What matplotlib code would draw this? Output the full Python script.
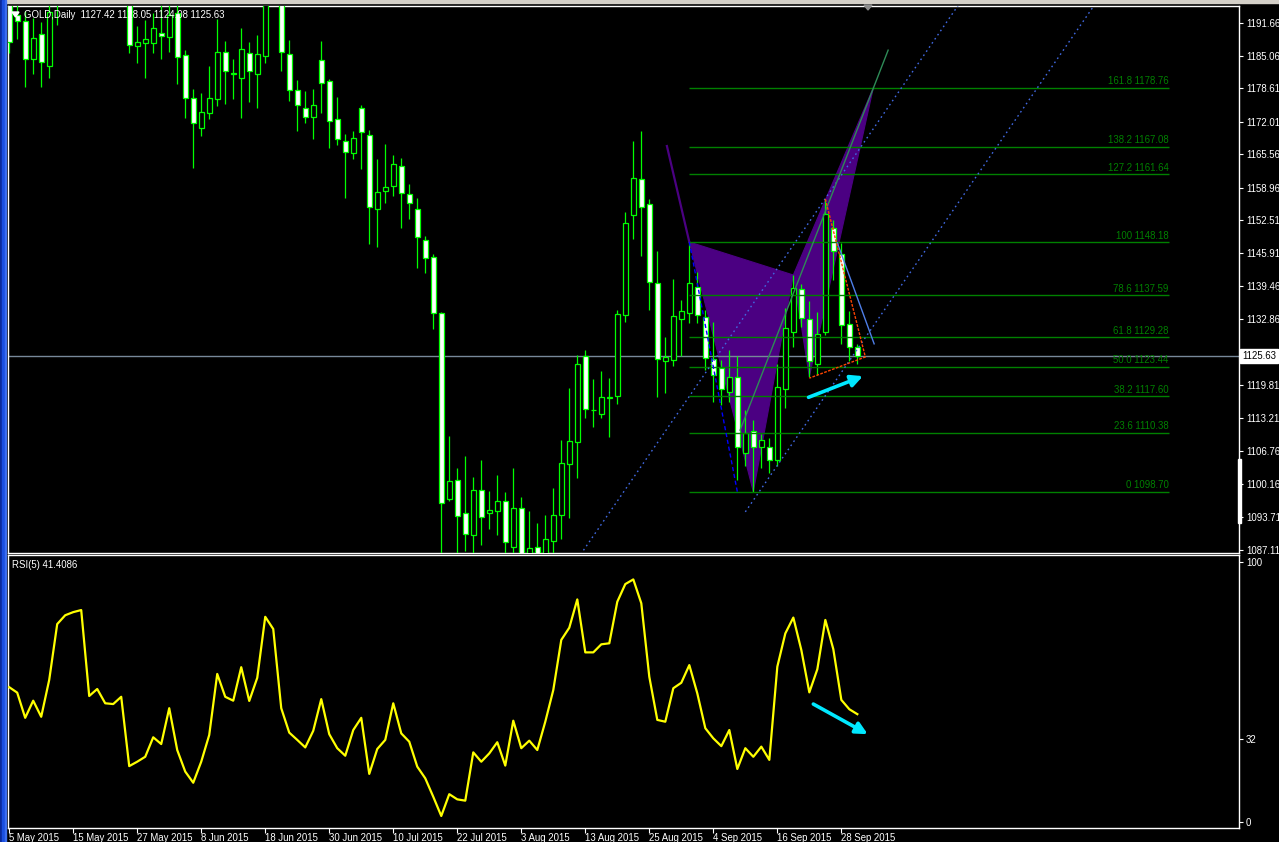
import matplotlib
matplotlib.use("Agg")
import matplotlib.pyplot as plt
import matplotlib.transforms as mtransforms
from matplotlib.patches import Polygon, Rectangle
import numpy as np

W, H, DPI = 1279, 842, 100
plt.rcParams["font.family"] = ["Liberation Sans", "DejaVu Sans"]

# ---- daily GOLD bars, 5 May 2015 .. 30 Sep 2015 ----
opens = [1196.5, 1193.2, 1192.0, 1184.5, 1189.5, 1183.1, 1196.0, 1201.0, 1207.0, 1216.0,
         1225.0, 1205.0, 1207.0, 1203.0, 1202.5, 1204.0, 1187.0, 1187.6, 1187.7, 1189.6,
         1188.9, 1193.6, 1185.2, 1176.7, 1170.7, 1173.7, 1176.5, 1185.9, 1181.5, 1180.6,
         1185.7, 1181.4, 1185.1, 1197.0, 1196.2, 1185.4, 1178.4, 1174.7, 1172.9, 1184.2,
         1180.0, 1172.5, 1168.1, 1165.8, 1174.7, 1169.3, 1154.7, 1158.2, 1159.3, 1163.2,
         1157.6, 1154.7, 1148.5, 1145.2, 1134.1, 1097.3, 1101.0, 1094.4, 1090.2, 1099.0,
         1094.4, 1094.8, 1096.8, 1087.8, 1095.4, 1085.0, 1087.7, 1085.5, 1089.0, 1094.1,
         1104.1, 1108.6, 1125.5, 1114.9, 1114.0, 1117.3, 1117.6, 1133.7, 1153.5, 1160.6,
         1155.7, 1140.0, 1124.5, 1124.7, 1132.9, 1134.1, 1139.3, 1133.4, 1125.0, 1123.2,
         1118.5, 1121.4, 1106.4, 1110.8, 1107.5, 1107.6, 1105.0, 1119.0, 1130.3, 1138.8,
         1132.9, 1124.1, 1130.3, 1151.0, 1145.9, 1131.9, 1127.42]
highs = [1198.0, 1195.5, 1194.0, 1192.5, 1191.7, 1195.5, 1205.0, 1209.0, 1219.0, 1226.0,
         1227.0, 1211.0, 1209.0, 1207.0, 1208.0, 1206.0, 1191.0, 1192.2, 1193.5, 1195.2,
         1195.5, 1195.5, 1186.2, 1178.5, 1177.7, 1183.1, 1192.4, 1188.0, 1184.4, 1190.5,
         1187.8, 1189.2, 1199.5, 1200.0, 1197.0, 1188.2, 1180.3, 1178.1, 1178.6, 1188.0,
         1180.5, 1176.9, 1169.6, 1170.2, 1175.3, 1170.4, 1164.6, 1167.7, 1165.4, 1164.8,
         1159.7, 1156.9, 1149.4, 1145.8, 1134.3, 1109.7, 1103.4, 1105.8, 1101.6, 1105.0,
         1098.8, 1102.0, 1098.6, 1103.4, 1097.6, 1094.9, 1092.5, 1094.1, 1099.4, 1108.9,
         1119.3, 1125.8, 1126.8, 1121.0, 1122.6, 1121.2, 1134.7, 1154.1, 1168.2, 1170.2,
         1156.7, 1146.4, 1129.3, 1140.9, 1136.7, 1148.18, 1142.3, 1134.7, 1132.3, 1124.8,
         1126.8, 1125.5, 1114.9, 1112.9, 1110.1, 1109.3, 1124.0, 1135.2, 1141.6, 1139.9,
         1136.5, 1134.3, 1156.7, 1152.5, 1147.9, 1134.6, 1128.05]
lows = [1185.6, 1188.4, 1178.8, 1181.5, 1178.8, 1180.7, 1191.2, 1199.0, 1205.0, 1214.0,
        1202.0, 1201.0, 1199.0, 1198.0, 1199.0, 1185.6, 1183.6, 1180.6, 1185.7, 1184.5,
        1185.9, 1179.4, 1172.8, 1162.8, 1169.1, 1172.5, 1175.1, 1175.5, 1176.6, 1172.7,
        1176.0, 1174.7, 1183.6, 1195.3, 1182.1, 1176.2, 1170.2, 1171.7, 1168.5, 1173.8,
        1166.9, 1167.4, 1157.0, 1164.6, 1162.7, 1147.8, 1147.1, 1156.0, 1157.3, 1151.0,
        1152.7, 1143.1, 1142.1, 1130.9, 1080.8, 1096.9, 1085.5, 1087.0, 1077.0, 1088.2,
        1091.4, 1090.2, 1084.5, 1083.5, 1083.0, 1082.0, 1081.5, 1083.0, 1085.0, 1089.3,
        1093.5, 1101.5, 1113.4, 1111.6, 1113.4, 1109.6, 1116.1, 1132.4, 1148.8, 1145.5,
        1134.7, 1117.5, 1118.2, 1123.6, 1125.6, 1132.1, 1132.1, 1122.8, 1116.5, 1115.9,
        1116.5, 1101.0, 1103.7, 1098.70, 1103.3, 1102.5, 1103.7, 1115.2, 1127.3, 1131.4,
        1121.5, 1121.8, 1129.8, 1140.7, 1127.9, 1124.5, 1124.08]
closes = [1187.9, 1192.0, 1184.4, 1188.6, 1183.8, 1193.8, 1201.0, 1207.0, 1216.0, 1225.0,
          1205.0, 1207.0, 1203.0, 1202.5, 1204.0, 1187.2, 1187.8, 1188.4, 1190.5, 1189.1,
          1193.2, 1184.9, 1176.7, 1171.8, 1173.9, 1176.7, 1185.8, 1182.1, 1181.7, 1186.4,
          1182.1, 1185.4, 1197.0, 1196.2, 1185.8, 1178.4, 1175.3, 1172.9, 1175.3, 1179.6,
          1172.1, 1168.5, 1166.1, 1168.8, 1170.0, 1155.1, 1158.0, 1159.0, 1163.6, 1157.8,
          1156.0, 1149.2, 1145.1, 1134.1, 1096.4, 1100.8, 1093.9, 1090.4, 1099.0, 1093.6,
          1095.0, 1096.8, 1088.7, 1095.4, 1085.5, 1087.5, 1086.0, 1089.3, 1094.0, 1104.3,
          1108.7, 1124.1, 1115.0, 1114.8, 1117.4, 1117.5, 1133.9, 1151.9, 1160.8, 1155.1,
          1140.3, 1124.9, 1125.3, 1133.5, 1134.6, 1140.0, 1133.7, 1125.1, 1121.8, 1119.0,
          1121.4, 1107.5, 1110.4, 1107.5, 1108.9, 1105.0, 1119.4, 1131.1, 1139.0, 1133.1,
          1124.6, 1129.9, 1153.7, 1146.4, 1131.7, 1127.4, 1125.63]

# RSI(5) of the closes
rsi = [51.8, 49.7, 40.0, 46.6, 40.4, 54.6, 76.1, 79.5, 80.7, 81.5,
       48.4, 51.1, 45.6, 45.3, 48.1, 21.4, 23.1, 25.0, 32.5, 29.9,
       43.7, 27.6, 19.3, 15.0, 23.1, 33.4, 56.9, 48.1, 46.6, 59.5,
       46.5, 55.4, 78.9, 74.2, 43.7, 34.3, 31.5, 28.6, 35.0, 47.2,
       33.7, 28.3, 25.4, 35.3, 40.0, 18.4, 28.0, 31.5, 45.6, 34.0,
       30.8, 21.2, 16.7, 9.6, 2.2, 10.6, 8.6, 8.1, 26.7, 23.1,
       26.3, 30.6, 21.6, 38.9, 28.3, 31.2, 27.6, 38.5, 50.7, 70.0,
       74.7, 85.6, 65.2, 65.2, 68.3, 68.7, 84.7, 91.5, 93.3, 84.1,
       55.8, 39.2, 38.5, 51.4, 53.5, 60.3, 49.4, 36.0, 32.1, 29.1,
       35.3, 20.3, 28.3, 25.0, 28.9, 23.8, 59.7, 72.5, 78.6, 66.1,
       49.8, 58.7, 77.7, 66.4, 46.9, 43.3, 41.4086]

date_ticks = [0, 8, 16, 24, 32, 40, 48, 56, 64, 72, 80, 88, 96, 104]
date_labels = ["5 May 2015", "15 May 2015", "27 May 2015", "8 Jun 2015", "18 Jun 2015",
               "30 Jun 2015", "10 Jul 2015", "22 Jul 2015", "3 Aug 2015", "13 Aug 2015",
               "25 Aug 2015", "4 Sep 2015", "16 Sep 2015", "28 Sep 2015"]
price_ticks = [1191.66, 1185.06, 1178.61, 1172.01, 1165.56, 1158.96, 1152.51, 1145.91,
               1139.46, 1132.86, 1126.26, 1119.81, 1113.21, 1106.76, 1100.16, 1093.71, 1087.11]
rsi_ticks = [0, 32, 100]

# Fibonacci retracement drawn from the 1148.18 high to the 1098.70 low
fib_ratios = ["0", "23.6", "38.2", "50.0", "61.8", "78.6", "100", "127.2", "138.2", "161.8"]
fib_prices = [1098.70, 1110.38, 1117.60, 1123.44, 1129.28, 1137.59, 1148.18, 1161.64, 1167.08, 1178.76]
fib_anchor = [(85, 1148.18), (91, 1098.70)]
fib_span = (85, 145)

# harmonic pattern points X, A, B, C, D
pat_bar = [85, 93, 98, 100, 108]
pat_price = [1148.18, 1098.70, 1141.64, 1121.48, 1178.76]
pat_lead = [(82.2, 1167.2), (85, 1148.18)]

# trend lines
channel_lines = [[(70.0, 1083.0), (119.0, 1196.0)],
                 [(92.0, 1094.7), (136.0, 1196.0)]]
teal_line = [(91.35, 1110.9), (109.85, 1186.2)]
thin_blue = [(103.5, 1148.0), (108.1, 1128.0)]
red_path = [(102.0, 1156.7), (107.0, 1125.4), (100.0, 1121.2)]
arrow_price = [(99.9, 1117.4), (106.7, 1121.6)]
arrow_rsi = [(100.5, 45.3), (107.3, 33.7)]

last_price = 1125.63
header = "GOLD,Daily  1127.42 1128.05 1124.08 1125.63"
rsi_title = "RSI(5) 41.4086"

GREEN = "#00ff00"
FIB = "#008000"
FS = 6.9

fig = plt.figure(figsize=(W / DPI, H / DPI), dpi=DPI, facecolor="black")


def box(x0, y0, x1, y1):
    return [x0 / W, 1 - y1 / H, (x1 - x0) / W, (y1 - y0) / H]


ax = fig.add_axes(box(8, 6, 1239, 553))
ax_r = fig.add_axes(box(8, 555, 1239, 828))
XL = (-0.15, 153.7)
for a in (ax, ax_r):
    a.set_facecolor("black")
    a.set_xlim(*XL)
    for s in a.spines.values():
        s.set_color("white")
        s.set_linewidth(1.0)
ax.set_ylim(1086.55, 1194.95)
ax_r.set_ylim(-2.43, 102.7)

x = np.arange(len(closes))
o = np.array(opens)
c = np.array(closes)
bull = c >= o

# candles
ax.vlines(x, lows, highs, color=GREEN, lw=0.9, zorder=3)
body_lo = np.minimum(o, c)
body_h = np.maximum(np.abs(c - o), 0.08)
ax.bar(x, body_h, bottom=body_lo, width=0.62,
       color=np.where(bull, "black", "white"), edgecolor=GREEN, linewidth=0.9, zorder=4)

# harmonic triangles
px_ = pat_bar
py_ = pat_price
ax.add_patch(Polygon([(px_[0], py_[0]), (px_[1], py_[1]), (px_[2], py_[2])],
                     closed=True, fc="#4b0082", ec="#4b0082", lw=0.8, zorder=1))
ax.add_patch(Polygon([(px_[2], py_[2]), (px_[3], py_[3]), (px_[4], py_[4])],
                     closed=True, fc="#4b0082", ec="#4b0082", lw=0.8, zorder=1))
ax.plot(*zip(*pat_lead), color="#4b0082", lw=1.6, zorder=1)

# current price
ax.axhline(last_price, color="#778899", lw=1.0, zorder=2.5)

# fibonacci levels
ax.hlines(fib_prices, fib_span[0], fib_span[1], color=FIB, lw=1.0, zorder=5)
lift = mtransforms.offset_copy(ax.transData, fig=fig, x=-1, y=1.5, units="dots")
for r, p in zip(fib_ratios, fib_prices):
    ax.text(fib_span[1], p, f"{r} {p:.2f}", transform=lift, ha="right", va="bottom",
            color=FIB, fontsize=FS, zorder=6)
ax.plot(*zip(*fib_anchor), color="#0000ff", lw=1.0, ls=(0, (3, 2)), zorder=5)

# trend lines
for ln in channel_lines:
    ax.plot(*zip(*ln), color="#4169e1", lw=1.0, ls=(0, (1.2, 2.4)), zorder=5)
ax.plot(*zip(*teal_line), color="#2e8b57", lw=1.0, zorder=5)
ax.plot(*zip(*thin_blue), color="#4f7fe8", lw=1.0, zorder=5)
ax.plot(*zip(*red_path), color="#ff4500", lw=1.0, ls=(0, (2, 1)), zorder=5)

arrow_kw = dict(arrowstyle="-|>,head_length=0.7,head_width=0.35", color="#00e8ff",
                lw=2.6, mutation_scale=10, shrinkA=0, shrinkB=0)
ax.annotate("", xy=arrow_price[1], xytext=arrow_price[0], arrowprops=arrow_kw, zorder=7)
ax_r.annotate("", xy=arrow_rsi[1], xytext=arrow_rsi[0], arrowprops=arrow_kw, zorder=7)

# price axis
ax.set_xticks([])
ax.yaxis.tick_right()
ax.set_yticks(price_ticks)
ax.set_yticklabels([f"{v:.2f}" for v in price_ticks])
ax.tick_params(axis="y", colors="white", labelsize=FS, length=3, width=0.8, pad=2)
lbl_tf = mtransforms.blended_transform_factory(ax.transAxes, ax.transData)
ax.text(1.0, last_price, f"{last_price:.2f}", transform=mtransforms.offset_copy(
    lbl_tf, fig=fig, x=3, y=0, units="dots"), ha="left", va="center", fontsize=FS,
    color="black", zorder=10, clip_on=False,
    bbox=dict(boxstyle="square,pad=0.2", fc="white", ec="white"))

# RSI pane
ax_r.plot(x, rsi, color="#ffff00", lw=1.6, zorder=3)
ax_r.yaxis.tick_right()
ax_r.set_yticks(rsi_ticks)
ax_r.set_yticklabels([str(v) for v in rsi_ticks])
ax_r.tick_params(axis="y", colors="white", labelsize=FS, length=3, width=0.8, pad=2)
ax_r.set_xticks(date_ticks)
ax_r.set_xticklabels(date_labels, ha="left")
ax_r.tick_params(axis="x", colors="white", labelsize=FS, length=3.5, width=0.8, pad=0.3)
ax_r.text(4 / 1231, 1 - 10 / 273, rsi_title, transform=ax_r.transAxes, ha="left",
          va="center", color="white", fontsize=FS)

# window chrome
def fig_rect(x0, y0, x1, y1, color):
    fig.patches.append(Rectangle((x0 / W, 1 - y1 / H), (x1 - x0) / W, (y1 - y0) / H,
                                 transform=fig.transFigure, color=color, zorder=0))


fig_rect(0, 0, W, 3, "#d4d0c8")
fig_rect(0, 0, 2, H, "#0a2a9c")
fig_rect(2, 0, 5, H, "#1a4fe0")
fig_rect(5, 0, 6, H, "#3c6ef0")
fig_rect(1238, 459, 1241, 523, "white")
fig.patches.append(Polygon([(864 / W, 1 - 5 / H), (872 / W, 1 - 5 / H), (868 / W, 1 - 10 / H)],
                           closed=True, transform=fig.transFigure, color="#8c8c8c"))
fig.patches.append(Polygon([(12 / W, 1 - 12 / H), (19 / W, 1 - 12 / H), (15.5 / W, 1 - 17 / H)],
                           closed=True, transform=fig.transFigure, color="white"))
fig.text(24 / W, 1 - 15 / H, header, ha="left", va="center", color="white", fontsize=6.9)

fig.savefig("out.png", dpi=DPI, facecolor="black")
